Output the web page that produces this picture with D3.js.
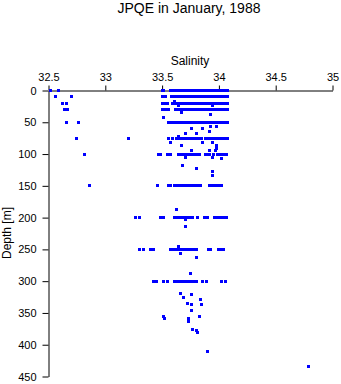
<!DOCTYPE html>
<html><head><meta charset="utf-8">
<script src="https://cdn.jsdelivr.net/npm/d3@7"></script>
<style>
html,body{margin:0;padding:0;background:#fff;}
svg text{font-family:"Liberation Sans",Arial,Helvetica,sans-serif;fill:#000;}
</style></head>
<body><svg id="chart" width="341" height="384"></svg>
<script>
// Standard depth levels (m) and salinity readings at each level
const levels = [0, 10, 20, 30, 50, 75, 100, 150, 200, 250, 300];
const sal0   = [32.52,32.59,33.50,33.51,33.57,33.59,33.61,33.63,33.65,33.67,33.69,33.71,33.73,33.75,33.77,33.79,33.81,33.83,33.85,33.87,33.89,33.91,33.93,33.95,33.97,33.99,34.01,34.03,34.05,34.07,34.08];
const sal10  = [32.56,32.70,33.50,33.53,33.58,33.60,33.62,33.64,33.66,33.68,33.70,33.72,33.74,33.76,33.78,33.80,33.82,33.84,33.86,33.88,33.90,33.92,33.94,33.96,33.98,34.00,34.02,34.03,34.06,34.08];
const sal20  = [32.62,32.66,33.50,33.52,33.55,33.59,33.61,33.63,33.65,33.67,33.69,33.71,33.73,33.75,33.77,33.79,33.81,33.84,33.85,33.87,33.88,33.90,33.92,33.94,33.96,33.98,34.00,34.02,34.04,34.05,34.08];
const sal30  = [32.64,32.67,33.50,33.53,33.54,33.56,33.62,33.64,33.66,33.68,33.70,33.72,33.74,33.76,33.78,33.80,33.82,33.85,33.87,33.89,33.91,33.93,33.95,33.97,33.99,34.01,34.03,34.04,34.05,34.08];
const sal50  = [32.66,32.76,33.56,33.58,33.59,33.61,33.63,33.65,33.67,33.69,33.70,33.72,33.74,33.76,33.78,33.80,33.82,33.84,33.86,33.88,33.90,33.92,33.94,33.96,33.98,34.00,34.02,34.04,34.06,34.08];
const sal75  = [32.75,33.20,33.56,33.59,33.63,33.65,33.67,33.69,33.71,33.73,33.75,33.77,33.79,33.81,33.83,33.85,33.88,33.90,33.92,33.94,33.96,33.98,34.00,34.02,34.04,34.06,34.08];
const sal100 = [32.82,33.47,33.49,33.55,33.57,33.64,33.66,33.68,33.70,33.72,33.74,33.76,33.78,33.80,33.83,33.88,33.90,33.92,33.95,33.99,34.01,34.03,34.05,34.07];
const sal150 = [32.86,33.46,33.56,33.57,33.61,33.63,33.65,33.67,33.69,33.71,33.73,33.75,33.77,33.79,33.81,33.84,33.92,33.94,33.96,33.97,33.99,34.01,34.02];
const sal200 = [33.27,33.30,33.49,33.51,33.61,33.63,33.65,33.67,33.69,33.71,33.73,33.75,33.77,33.81,33.87,33.90,33.96,33.98,34.00,34.02,34.04,34.07];
const sal250 = [33.30,33.34,33.40,33.42,33.57,33.60,33.62,33.64,33.66,33.68,33.70,33.72,33.74,33.76,33.78,33.80,33.91,33.93,34.00,34.02,34.04];
const sal300 = [33.42,33.45,33.51,33.55,33.61,33.63,33.65,33.67,33.69,33.71,33.73,33.75,33.77,33.79,33.80,33.86,33.89,34.02,34.06];
const levelSal = [sal0, sal10, sal20, sal30, sal50, sal75, sal100, sal150, sal200, sal250, sal300];

// Off-level samples
const extraDepth = [17,24,23,35,38,42,57,57,60,60,64,68,68,72,82,82,82,87,87,92,95,95,95,106,106,107,118,122,127,134,188,203,214,246,256,262,288,320,326,321,329,335,337,336,346,356,358,359,364,355,376,378,381,411,434];
const extraSal   = [33.61,33.64,33.94,33.67,33.93,33.51,33.93,33.98,33.86,33.76,33.92,33.71,33.80,33.64,33.57,33.86,33.94,33.67,33.98,33.98,33.76,33.92,33.97,33.71,33.94,34.02,33.68,33.80,33.94,33.94,33.63,33.71,33.71,33.64,33.66,33.80,33.75,33.66,33.69,33.76,33.84,33.72,33.76,33.85,33.76,33.51,33.52,33.73,33.73,33.83,33.77,33.80,33.81,33.90,34.79];

const xTicks = [32.5, 33, 33.5, 34, 34.5, 35];
const yTicks = [0, 50, 100, 150, 200, 250, 300, 350, 400, 450];

const points = [];
levels.forEach((d, i) => levelSal[i].forEach(s => points.push({d: d, s: s})));
extraDepth.forEach((d, i) => points.push({d: d, s: extraSal[i]}));

const svg = d3.select("#chart");
const mLeft = 48, mRight = 332, mTop = 90, mBottom = 376;
const x = d3.scaleLinear().domain([32.5, 35]).range([mLeft, mRight]);
const y = d3.scaleLinear().domain([0, 450]).range([mTop, mBottom]);

svg.append("text").attr("x", 189).attr("y", 13)
  .attr("text-anchor", "middle").style("font-size", "14px").text("JPQE in January, 1988");

const xAxis = svg.append("g").attr("transform", `translate(0.5,${mTop + 0.5})`)
  .call(d3.axisTop(x).tickValues(xTicks).tickFormat(d3.format("")).tickSize(5).tickSizeOuter(0).tickPadding(5));
const yAxis = svg.append("g").attr("transform", `translate(${mLeft + 0.5},0.5)`)
  .call(d3.axisLeft(y).tickValues(yTicks).tickSize(6).tickSizeOuter(0).tickPadding(6));
[xAxis, yAxis].forEach(g => {
  g.selectAll("text").style("font-size", "11px").attr("fill", "#000").style("font-family", '"Liberation Sans",Arial,sans-serif');
  g.selectAll("line,path").attr("stroke", "#000");
});

svg.append("text").attr("x", (mLeft + mRight) / 2).attr("y", 65)
  .attr("text-anchor", "middle").style("font-size", "12px").text("Salinity");
svg.append("text").attr("transform", `translate(11,${(mTop + mBottom) / 2}) rotate(-90)`)
  .attr("text-anchor", "middle").style("font-size", "12px").text("Depth [m]");

svg.append("g").selectAll("rect").data(points).join("rect")
  .attr("x", p => Math.round(x(p.s)) - 1).attr("y", p => Math.round(y(p.d)) - 1)
  .attr("width", 3).attr("height", 3).attr("fill", "#0000ff");
</script></body></html>
